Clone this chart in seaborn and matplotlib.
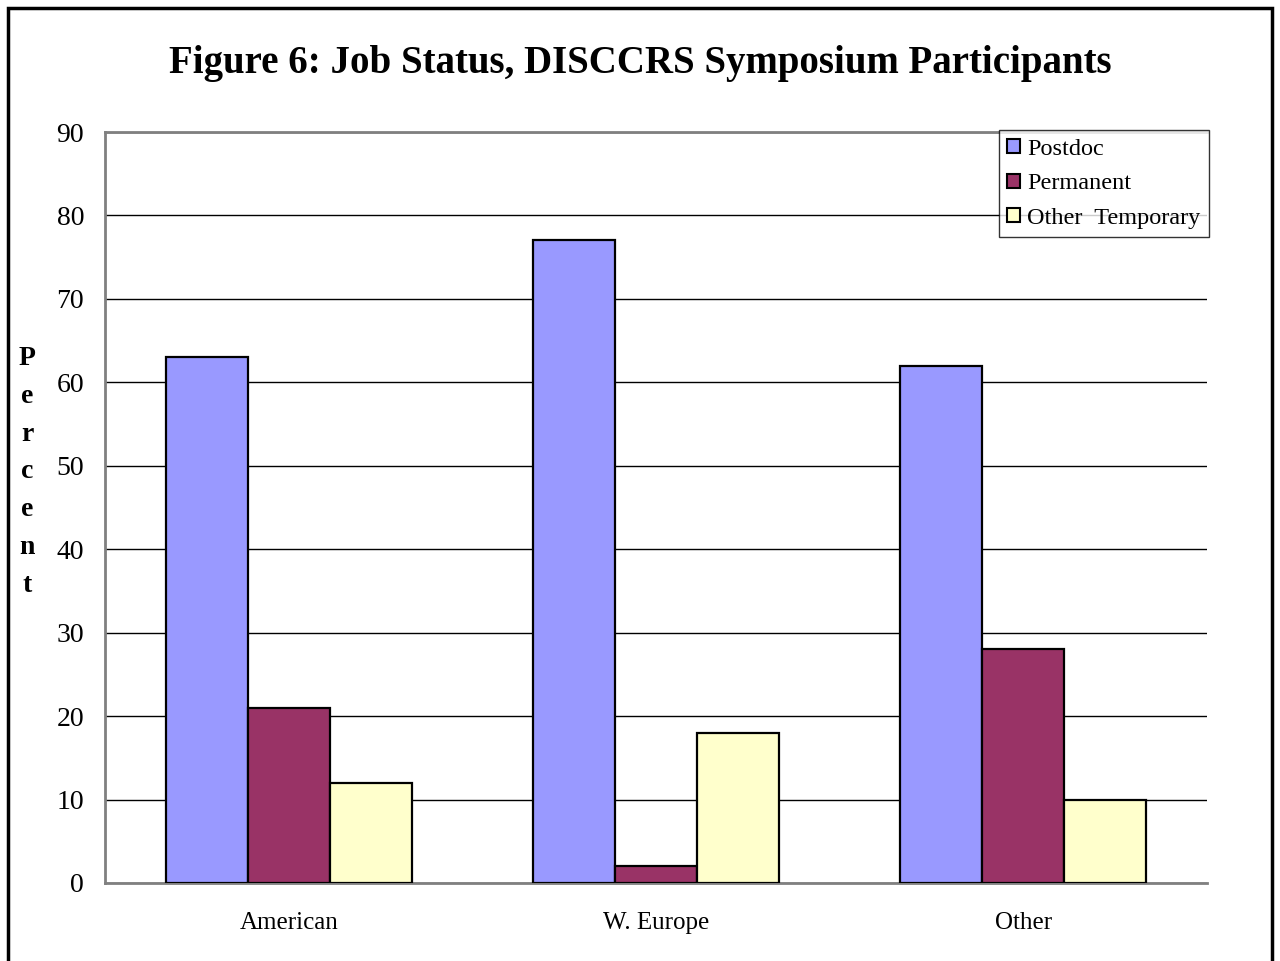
import pandas as pd
import numpy as np
import matplotlib.pyplot as plt
import seaborn as sns
from matplotlib.patches import Rectangle
from matplotlib.ticker import FixedLocator, NullFormatter

# Data
regions = ['American', 'W. Europe', 'Other']
job_types = ['Postdoc', 'Permanent', 'Other  Temporary']
postdoc = [63, 77, 62]
permanent = [21, 2, 28]
other_temp = [12, 18, 10]
y_ticks = [0, 10, 20, 30, 40, 50, 60, 70, 80, 90]

colors = {'Postdoc': '#9999FF', 'Permanent': '#993366', 'Other  Temporary': '#FFFFCC'}

rows = []
for i, reg in enumerate(regions):
    for jt, vals in zip(job_types, [postdoc, permanent, other_temp]):
        rows.append({'region': reg, 'status': jt, 'percent': vals[i]})
df = pd.DataFrame(rows)

sns.set_style("white")
plt.rcParams['font.family'] = ['Liberation Serif', 'DejaVu Serif']
plt.rcParams['text.color'] = 'black'
plt.rcParams['xtick.labelcolor'] = 'black'
plt.rcParams['ytick.labelcolor'] = 'black'

fig = plt.figure(figsize=(12.8, 9.61), dpi=100)
ax = fig.add_axes([105 / 1280, 78 / 961, 1102 / 1280, 751 / 961])

sns.barplot(data=df, x='region', y='percent', hue='status', order=regions,
            hue_order=job_types, palette=colors, width=0.67,
            edgecolor='black', linewidth=1.6, saturation=1, ax=ax, zorder=3)

ax.set_ylim(0, 90)
ax.set_xlim(-0.5, 2.5)
ax.set_yticks(y_ticks)
ax.yaxis.grid(True, color='black', linewidth=1.0, zorder=0)
ax.set_axisbelow(True)

# category boundary ticks on x axis, no ticks at labels
ax.tick_params(axis='x', which='major', length=0, pad=21, labelsize=18)
ax.xaxis.set_minor_locator(FixedLocator([-0.5, 0.5, 1.5, 2.5]))
ax.xaxis.set_minor_formatter(NullFormatter())
ax.tick_params(axis='x', which='minor', length=6, width=1, color='#808080', direction='out')
ax.tick_params(axis='y', length=9, width=1, color='#808080', direction='out', pad=6, labelsize=20)

for side in ['left', 'bottom', 'top']:
    ax.spines[side].set_color('#808080')
    ax.spines[side].set_linewidth(2)
ax.spines['right'].set_visible(False)

ax.set_xlabel('')
ax.set_ylabel('')

fig.text(27 / 1280, 1 - 472 / 961, 'P\ne\nr\nc\ne\nn\nt', ha='center', va='center',
         fontsize=20, fontweight='bold', linespacing=1.68)

fig.suptitle('Figure 6: Job Status, DISCCRS Symposium Participants', x=0.5, y=1 - 64 / 961,
             va='center', fontsize=28, fontweight='bold')

leg = ax.legend(loc='upper right', bbox_to_anchor=(1.0015, 1.002), frameon=True,
                fancybox=False, fontsize=17.5, handlelength=0.5, handleheight=0.5,
                handletextpad=0.3, borderpad=0.35, labelspacing=0.55, borderaxespad=0)
leg.get_frame().set_edgecolor('black')
leg.get_frame().set_linewidth(1)
for h in leg.legend_handles:
    h.set_edgecolor('black')
    h.set_linewidth(1.5)

# outer border of the figure
fig.patches.append(Rectangle((8 / 1280, -0.05), 1264 / 1280, 1.05 - 8 / 961,
                             transform=fig.transFigure, fill=False,
                             edgecolor='black', linewidth=2.5))

fig.savefig('out.png', dpi=100)
